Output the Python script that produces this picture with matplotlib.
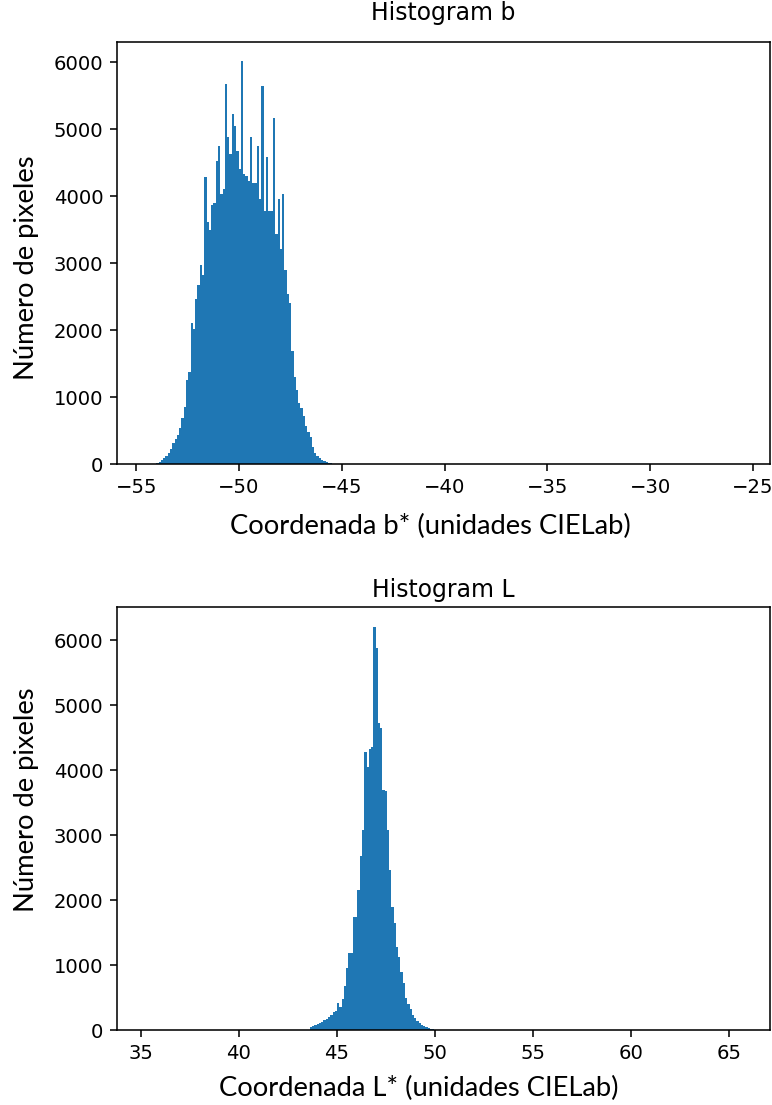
import matplotlib.pyplot as plt
import numpy as np

# b* channel: left edge of the first bin, bin width, pixel count per bin
b_start = -54.03
b_width = 0.1113
b_counts = [
    15, 30, 60, 90, 120, 170, 230, 310, 380, 430,
    530, 680, 850, 1250, 1380, 2100, 2020, 2470, 2670, 2970,
    2820, 4280, 3610, 3500, 3860, 3900, 4530, 4750, 4030, 4100,
    5670, 4880, 4630, 5220, 5050, 4680, 4400, 6020, 4330, 4300,
    4230, 4880, 4200, 4200, 4750, 3960, 5640, 3780, 4580, 3780,
    3780, 5170, 3440, 3960, 3210, 4030, 2890, 2540, 2400, 1680,
    1300, 1100, 910, 830, 710, 560, 480, 410, 260, 160,
    115, 90, 65, 40, 30, 20, 10,
]

# L* channel
l_start = 43.62
l_width = 0.1155
l_counts = [
    40, 60, 70, 90, 110, 130, 150, 170, 200, 230,
    270, 300, 410, 360, 470, 670, 950, 1180, 1180, 1740,
    1740, 2150, 2670, 3080, 4280, 4050, 4330, 4360, 6200, 5870,
    4720, 4650, 3690, 3670, 3080, 2460, 1900, 1640, 1280, 1130,
    900, 720, 490, 400, 330, 230, 180, 140, 110, 80,
    55, 40, 25, 15, 8,
]

b_xticks = [-55, -50, -45, -40, -35, -30, -25]
l_xticks = [35, 40, 45, 50, 55, 60, 65]
y_ticks = [0, 1000, 2000, 3000, 4000, 5000, 6000]

W, H, DPI = 772, 1105, 141
LABEL_FONT = dict(family="Lato", size=14)


def draw_hist(ax, start, width, counts):
    counts = np.asarray(counts, dtype=float)
    edges = start + width * np.arange(len(counts) + 1)
    centers = edges[:-1] + width / 2
    ax.hist(centers, bins=edges, weights=counts, color="#1f77b4")


def px_rect(left, top, right, bottom):
    return [left / W, 1 - bottom / H, (right - left) / W, (bottom - top) / H]


fig = plt.figure(figsize=(W / DPI, H / DPI), dpi=DPI)

ax_b = fig.add_axes(px_rect(117, 42, 770, 464))
draw_hist(ax_b, b_start, b_width, b_counts)
ax_b.set_xlim(-55.94, -24.17)
ax_b.set_ylim(0, 6300)
ax_b.set_xticks(b_xticks)
ax_b.set_yticks(y_ticks)
ax_b.set_title("Histogram b", pad=11)

ax_l = fig.add_axes(px_rect(117, 607, 770, 1030))
draw_hist(ax_l, l_start, l_width, l_counts)
ax_l.set_xlim(33.78, 67.09)
ax_l.set_ylim(0, 6508)
ax_l.set_xticks(l_xticks)
ax_l.set_yticks(y_ticks)
ax_l.set_title("Histogram L", pad=5)

# axis captions set in a separate, larger font
fig.text(430 / W, 1 - 526 / H, "Coordenada b* (unidades CIELab)",
         ha="center", va="center", **LABEL_FONT)
fig.text(419 / W, 1 - 1088 / H, "Coordenada L* (unidades CIELab)",
         ha="center", va="center", **LABEL_FONT)
fig.text(27 / W, 1 - 268 / H, "Número de pixeles", rotation=90,
         ha="center", va="center", **LABEL_FONT)
fig.text(27 / W, 1 - 800 / H, "Número de pixeles", rotation=90,
         ha="center", va="center", **LABEL_FONT)

fig.savefig("out.png", dpi=DPI)
